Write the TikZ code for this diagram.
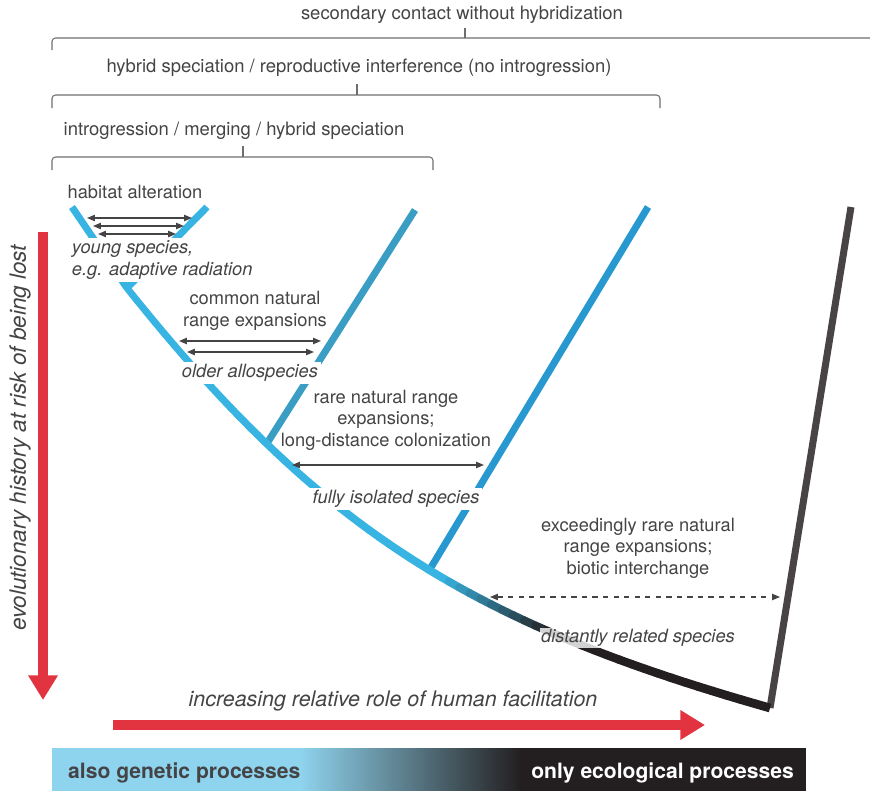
\documentclass[tikz,border=0pt]{standalone}
\usepackage{fontspec}
\setmainfont{TeX Gyre Heros}
\usetikzlibrary{arrows.meta}
\definecolor{treeblue}{RGB}{56,180,226}
\definecolor{midblue}{RGB}{58,158,196}
\definecolor{deepblue}{RGB}{40,152,208}
\definecolor{treedark}{RGB}{35,31,32}
\definecolor{greybranch}{RGB}{72,68,70}
\definecolor{txtgray}{RGB}{68,68,70}
\definecolor{bracketgray}{RGB}{110,110,110}
\definecolor{arrowred}{RGB}{226,52,64}
\definecolor{barblue}{RGB}{143,212,238}

\tikzset{
  lbl/.style={text=txtgray, font=\fontsize{10.4}{12.3}\selectfont, align=center},
  spec/.style={text=txtgray, font=\fontsize{10.4}{12.3}\selectfont\itshape, fill=white, inner sep=1.5pt},
  head/.style={text=txtgray, font=\fontsize{10.5}{12.5}\selectfont},
  branch/.style={line width=4pt},
  bracket/.style={draw=bracketgray, line width=0.6pt, rounded corners=2pt},
  twoway/.style={{Triangle[length=4.5pt,width=3.6pt]}-{Triangle[length=4.5pt,width=3.6pt]}, draw=txtgray, line width=0.7pt},
  bigarrow/.style={-{Triangle[length=14pt,width=16pt]}, line width=6pt, draw=arrowred},
}

\begin{document}
\begin{tikzpicture}[x=0.02cm,y=-0.02cm]
	\useasboundingbox (0,0) rectangle (870,791);

	% brackets on top
	\node[head] (hdSec) at (462,15) {secondary contact without hybridization};
	\node[head] (hdHyb) at (359,68) {hybrid speciation / reproductive interference (no introgression)};
	\node[head] (hdIntro) at (234,131) {introgression / merging / hybrid speciation};
	\draw[bracket] (52,50) |- (870,38);
	\draw[bracket] (465,38) -- (465,28);
	\draw[bracket] (52,108) |- (660,95) -- (660,108);
	\draw[bracket] (357,95) -- (357,84);
	\draw[bracket] (52,170) |- (433,157) -- (433,170);
	\draw[bracket] (243,157) -- (243,146);

	% tree
	\coordinate (young) at (127,288);
	\coordinate (yl) at (72,207);
	\coordinate (yr) at (207,207);
	\coordinate (top2) at (415,210);
	\coordinate (top3) at (648,207);
	\coordinate (top4) at (851,207);
	\coordinate (base) at (770,708);
	\path (young) .. controls (320,530) and (470,623) .. (base)
		coordinate[pos=0.25] (j2) coordinate[pos=0.535] (j3);

	\draw[branch, treeblue] (yl) -- (young);
	\draw[branch, treeblue] (yr) -- (young);
	\draw[branch, midblue] (j2) -- (top2);
	\draw[branch, deepblue] (j3) -- (top3);
	\draw[branch, greybranch] (base) -- (top4);
	\foreach \i in {1,...,60}{
		\pgfmathsetmacro\ta{(\i-1)/60}
		\pgfmathsetmacro\tb{\i/60}
		\pgfmathsetmacro\mix{max(0,min(100,(0.72-\ta)/0.17*100))}
		\pgfmathsetmacro\lw{3.9+1.1*\ta}
		\path (young) .. controls (320,530) and (470,623) .. (base)
			coordinate[pos=\ta] (ta) coordinate[pos=\tb] (tb);
		\ifnum\i<60
			\draw[line width=\lw pt, line cap=round, color=treeblue!\mix!treedark] (ta) -- (tb);
		\else
			\draw[line width=\lw pt, color=treeblue!\mix!treedark] (ta) -- (tb);
		\fi
	}

	% labels
	\node[lbl] (habitat) at (135,192) {habitat alteration};
	\node[spec, align=left, anchor=north west] (youngsp) at (69,238) {young species,\\e.g. adaptive radiation};
	\node[lbl] (common) at (255,311) {common natural\\range expansions};
	\node[spec] (older) at (250,373) {older allospecies};
	\node[lbl] (rare) at (386,420) {rare natural range\\expansions;\\long-distance colonization};
	\node[spec] (isolated) at (396,499) {fully isolated species};
	\node[lbl] (exceed) at (638,548) {exceedingly rare natural\\range expansions;\\biotic interchange};
	\node[spec, fill opacity=0.8, text opacity=1, inner sep=0.5pt] (distant) at (638,638) {distantly related species};

	% arrows between branches
	\foreach \n/\y/\a/\b in {1/218/87/192, 2/226/93/184, 3/234/98/176}{
		\coordinate (ha\n l) at (\a,\y);
		\coordinate (ha\n r) at (\b,\y);
		\draw[twoway] (ha\n l) -- (ha\n r);
	}
	\coordinate (ca1l) at (179,341);
	\coordinate (ca1r) at (321,341);
	\coordinate (ca2l) at (187,352);
	\coordinate (ca2r) at (314,352);
	\draw[twoway] (ca1l) -- (ca1r);
	\draw[twoway] (ca2l) -- (ca2r);
	\coordinate (ral) at (292,465);
	\coordinate (rar) at (484,465);
	\draw[twoway] (ral) -- (rar);
	\coordinate (exl) at (490,597);
	\coordinate (exr) at (780,597);
	\draw[twoway, dashed] (exl) -- (exr);

	% axes
	\node[text=txtgray, font=\fontsize{12.2}{14}\selectfont\itshape] (human) at (393,701) {increasing relative role of human facilitation};
	\coordinate (hs) at (113,725);
	\coordinate (he) at (705,725);
	\draw[bigarrow] (hs) -- (he);
	\node[text=txtgray, font=\fontsize{12.8}{14}\selectfont\itshape, rotate=90] (evol) at (20,438) {evolutionary history at risk of being lost};
	\coordinate (vs) at (43,232);
	\coordinate (ve) at (43,700);
	\draw[bigarrow] (vs) -- (ve);

	% bottom bar
	\fill[barblue] (52,748) rectangle (300,791);
	\shade[left color=barblue, right color=treedark] (299,748) rectangle (521,791);
	\fill[treedark] (520,748) rectangle (806,791);
	\node[anchor=west, text=txtgray, font=\fontsize{12}{14}\selectfont\bfseries] (genetic) at (62,773) {also genetic processes};
	\node[anchor=east, text=white, font=\fontsize{12}{14}\selectfont\bfseries] (ecol) at (800,773) {only ecological processes};
\end{tikzpicture}
\end{document}
